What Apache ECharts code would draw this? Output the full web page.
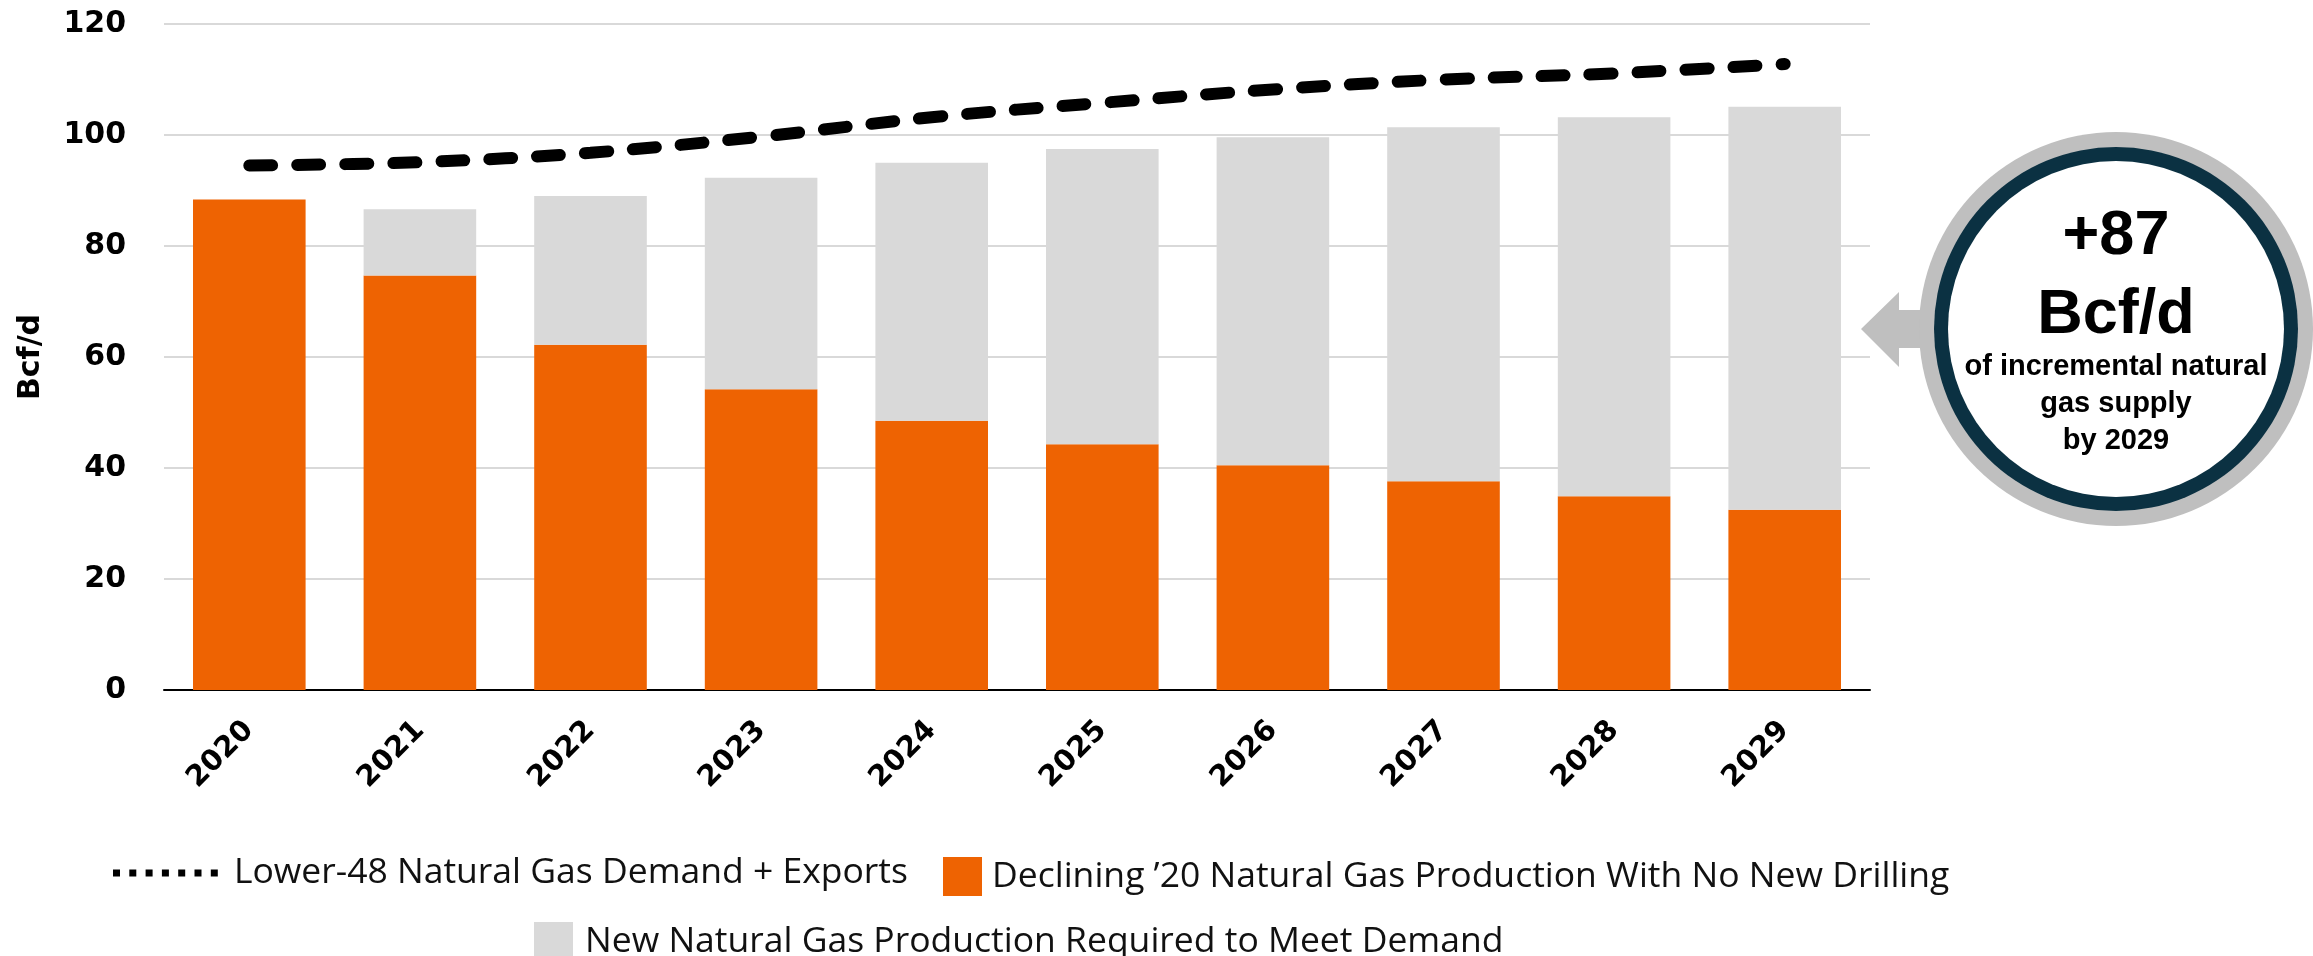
<!DOCTYPE html>
<html>
<head>
<meta charset="utf-8">
<script src="https://cdn.jsdelivr.net/npm/echarts@6/dist/echarts.min.js"></script>
<style>
html,body{margin:0;padding:0;background:#fff;}
#chart{width:2313px;height:956px;}
</style>
</head>
<body>
<div id="chart"></div>
<script>
const years = ['2020','2021','2022','2023','2024','2025','2026','2027','2028','2029'];
const decliningProduction = [88.4, 74.7, 62.2, 54.2, 48.5, 44.3, 40.5, 37.6, 34.9, 32.5];
const newProductionRequired = [0, 11.9, 26.8, 38.1, 46.5, 53.2, 59.1, 63.8, 68.3, 72.6];
const demandPlusExports = [94.5, 95.1, 96.8, 99.7, 103.2, 105.8, 108.2, 110.0, 111.1, 112.8];
const yMin = 0, yMax = 120, yStep = 20;

const names = {
  line: 'Lower-48 Natural Gas Demand + Exports',
  orange: 'Declining \u201920 Natural Gas Production With No New Drilling',
  gray: 'New Natural Gas Production Required to Meet Demand'
};
const calloutText = ['+87', 'Bcf/d', 'of incremental natural', 'gas supply', 'by 2029'];

const ORANGE = '#EE6302', GRAY = '#D9D9D9';
const legendFont = {fontFamily: 'Open Sans', fontSize: 35.5, color: '#111'};
let dots = '';
for (let i = 0; i < 7; i++) dots += 'M' + (i*16.3) + ',0h7v7h-7z';

const chart = echarts.init(document.getElementById('chart'), null, {renderer: 'canvas'});
chart.setOption({
  animation: false,
  backgroundColor: '#fff',
  grid: {left: 164, right: 443, top: 24, bottom: 266},
  legend: [
    {left: 108, top: 850, itemWidth: 105, itemHeight: 7, data: [{name: names.line, icon: 'path://' + dots}],
     textStyle: Object.assign({padding: [0,0,0,11]}, legendFont), selectedMode: false},
    {left: 938, top: 852, itemWidth: 39, itemHeight: 39, data: [{name: names.orange, icon: 'rect'}],
     textStyle: Object.assign({padding: [0,0,0,5]}, legendFont), selectedMode: false},
    {left: 529, top: 917, itemWidth: 39, itemHeight: 39, data: [{name: names.gray, icon: 'rect'}],
     textStyle: Object.assign({padding: [0,0,0,7]}, legendFont), selectedMode: false}
  ],
  xAxis: {
    type: 'category', data: years,
    axisLine: {lineStyle: {color: '#000', width: 2}},
    axisTick: {show: false},
    axisLabel: {interval: 0, rotate: 45, margin: 36, color: '#000', fontFamily: 'DejaVu Sans', fontWeight: 'bold', fontSize: 29}
  },
  yAxis: {
    type: 'value', min: yMin, max: yMax, interval: yStep,
    name: 'Bcf/d', nameLocation: 'middle', nameGap: 118, nameRotate: 90,
    nameTextStyle: {color: '#000', fontFamily: 'DejaVu Sans', fontWeight: 'bold', fontSize: 30},
    axisLine: {show: false}, axisTick: {show: false},
    axisLabel: {color: '#000', fontFamily: 'DejaVu Sans', fontWeight: 'bold', fontSize: 30, margin: 38},
    splitLine: {lineStyle: {color: '#D9D9D9', width: 2}}
  },
  series: [
    {name: names.orange, type: 'bar', stack: 'supply', data: decliningProduction, barCategoryGap: '34%',
     itemStyle: {color: ORANGE}},
    {name: names.gray, type: 'bar', stack: 'supply', data: newProductionRequired,
     itemStyle: {color: GRAY}},
    {name: names.line, type: 'line', data: demandPlusExports, smooth: 0.35, symbol: 'none', z: 5,
     itemStyle: {color: '#000'},
     lineStyle: {color: '#000', width: 12, type: [23, 25], cap: 'round'}}
  ],
  graphic: [
    {type: 'polygon', z: 10, shape: {points: [[1861,329],[1899,292],[1899,310],[1935,310],[1935,348],[1899,348],[1899,367]]},
     style: {fill: '#BFBFBF'}},
    {type: 'circle', z: 11, shape: {cx: 2116, cy: 329, r: 197}, style: {fill: '#BFBFBF'}},
    {type: 'circle', z: 12, shape: {cx: 2116, cy: 329, r: 182}, style: {fill: '#0B3142'}},
    {type: 'circle', z: 13, shape: {cx: 2116, cy: 329, r: 168}, style: {fill: '#fff'}},
    {type: 'text', z: 14, x: 2116, y: 268, style: {text: calloutText[0], font: 'bold 63px "Liberation Sans"', fill: '#000', align: 'center', verticalAlign: 'bottom'}},
    {type: 'text', z: 14, x: 2116, y: 347, style: {text: calloutText[1], font: 'bold 63px "Liberation Sans"', fill: '#000', align: 'center', verticalAlign: 'bottom'}},
    {type: 'text', z: 14, x: 2116, y: 381, style: {text: calloutText[2], font: 'bold 29px "Liberation Sans"', fill: '#000', align: 'center', verticalAlign: 'bottom'}},
    {type: 'text', z: 14, x: 2116, y: 418, style: {text: calloutText[3], font: 'bold 29px "Liberation Sans"', fill: '#000', align: 'center', verticalAlign: 'bottom'}},
    {type: 'text', z: 14, x: 2116, y: 455, style: {text: calloutText[4], font: 'bold 29px "Liberation Sans"', fill: '#000', align: 'center', verticalAlign: 'bottom'}}
  ]
});
</script>
</body>
</html>
